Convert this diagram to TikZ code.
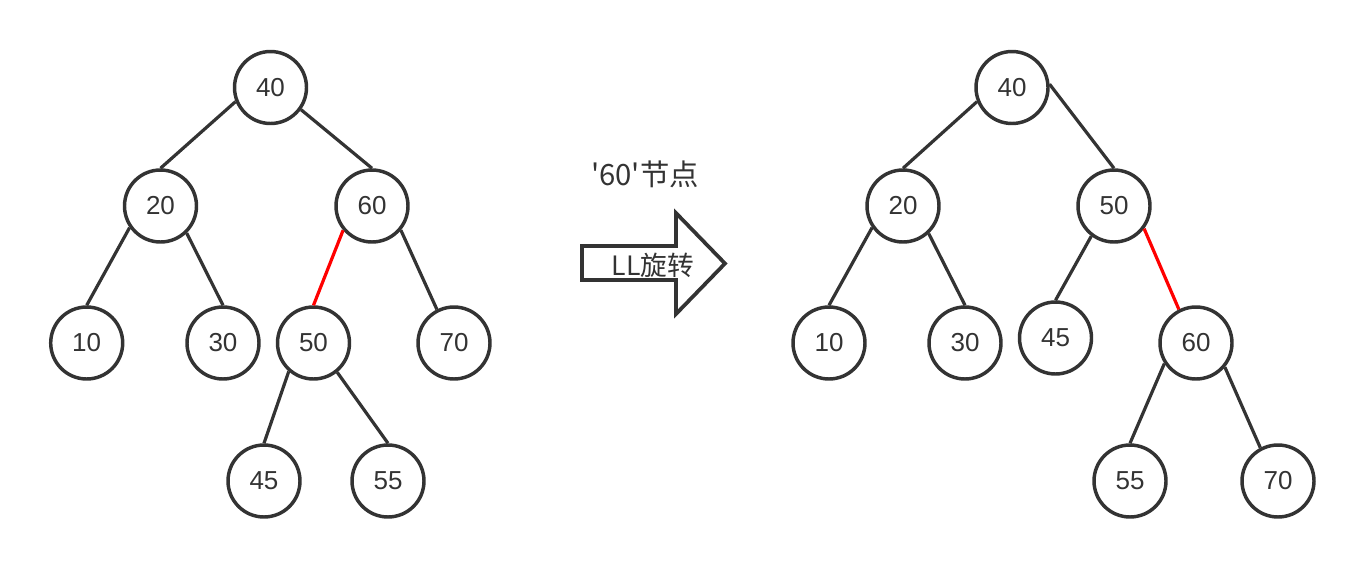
\documentclass[tikz,border=0pt]{standalone}
\usepackage{fontspec}
\setmainfont{Liberation Sans}
\newfontfamily\cjkfont{Noto Sans CJK SC}
\usepackage{tikz}
\definecolor{ink}{HTML}{333333}
\definecolor{hot}{HTML}{FF0000}
\tikzset{
  key/.style    = {circle, draw=ink, line width=2.6pt, minimum size=54pt,
                   inner sep=0pt, text=ink, font=\fontsize{19.5}{20}\selectfont},
  branch/.style = {draw=ink, line width=2.4pt},
  turned/.style = {draw=hot, line width=2.4pt},
  block/.style  = {draw=ink, line width=2.8pt, fill=white, line join=miter},
  say/.style    = {text=ink, inner sep=0pt},
}

\begin{document}
\begin{tikzpicture}[x=0.75pt, y=-0.75pt]
\useasboundingbox (0,0) rectangle (1364,568);

% ---- before: unbalanced at 60 -----------------------------------------
\node[key] at (270.5, 87.5) (a40) {40};
\node[key] at (160.5, 206)  (a20) {20};
\node[key] at (372,   206)  (a60) {60};
\node[key] at ( 86.7, 343)  (a10) {10};
\node[key] at (223,   343)  (a30) {30};
\node[key] at (313.5, 343)  (a50) {50};
\node[key] at (454,   343)  (a70) {70};
\node[key] at (264,   481)  (a45) {45};
\node[key] at (388,   481)  (a55) {55};

\draw[branch] (a40.202) -- (a20.north);
\draw[branch] (a40.324) -- (a60.north);
\draw[branch] (a20.215) -- (a10.north);
\draw[branch] (a20.314) -- (a30.north);
\draw[turned] (a60.220) -- (a50.north);
\draw[branch] (a60.320) -- (a70.117);
\draw[branch] (a50.229) -- (a45.north);
\draw[branch] (a50.309) -- (a55.north);

% ---- the rotation -----------------------------------------------------
\node[say, font=\cjkfont\fontsize{22}{24}\selectfont] at (645, 174) (why) {'60'节点};
\draw[block] (582,246) -- (676,246) -- (676,213) -- (725,263.5)
  -- (676,314) -- (676,280) -- (582,280) -- cycle;
\node[say, font=\cjkfont\fontsize{20}{22}\selectfont] at (653, 265) (how) {LL旋转};

% ---- after: 50 lifted -------------------------------------------------
\node[key] at (1012,   87.5) (b40) {40};
\node[key] at ( 903,   206)  (b20) {20};
\node[key] at (1114,   206)  (b50) {50};
\node[key] at ( 829,   343)  (b10) {10};
\node[key] at ( 965,   343)  (b30) {30};
\node[key] at (1055.5, 338)  (b45) {45};
\node[key] at (1196,   343)  (b60) {60};
\node[key] at (1130,   481)  (b55) {55};
\node[key] at (1278,   481)  (b70) {70};

\draw[branch] (b40.202) -- (b20.north);
\draw[branch] (b40.5)   -- (b50.north);
\draw[branch] (b20.215) -- (b10.north);
\draw[branch] (b20.313) -- (b30.north);
\draw[branch] (b50.233) -- (b45.north);
\draw[turned] (b50.323) -- (b60.117);
\draw[branch] (b60.213) -- (b55.north);
\draw[branch] (b60.320) -- (b70.118);

\end{tikzpicture}
\end{document}
